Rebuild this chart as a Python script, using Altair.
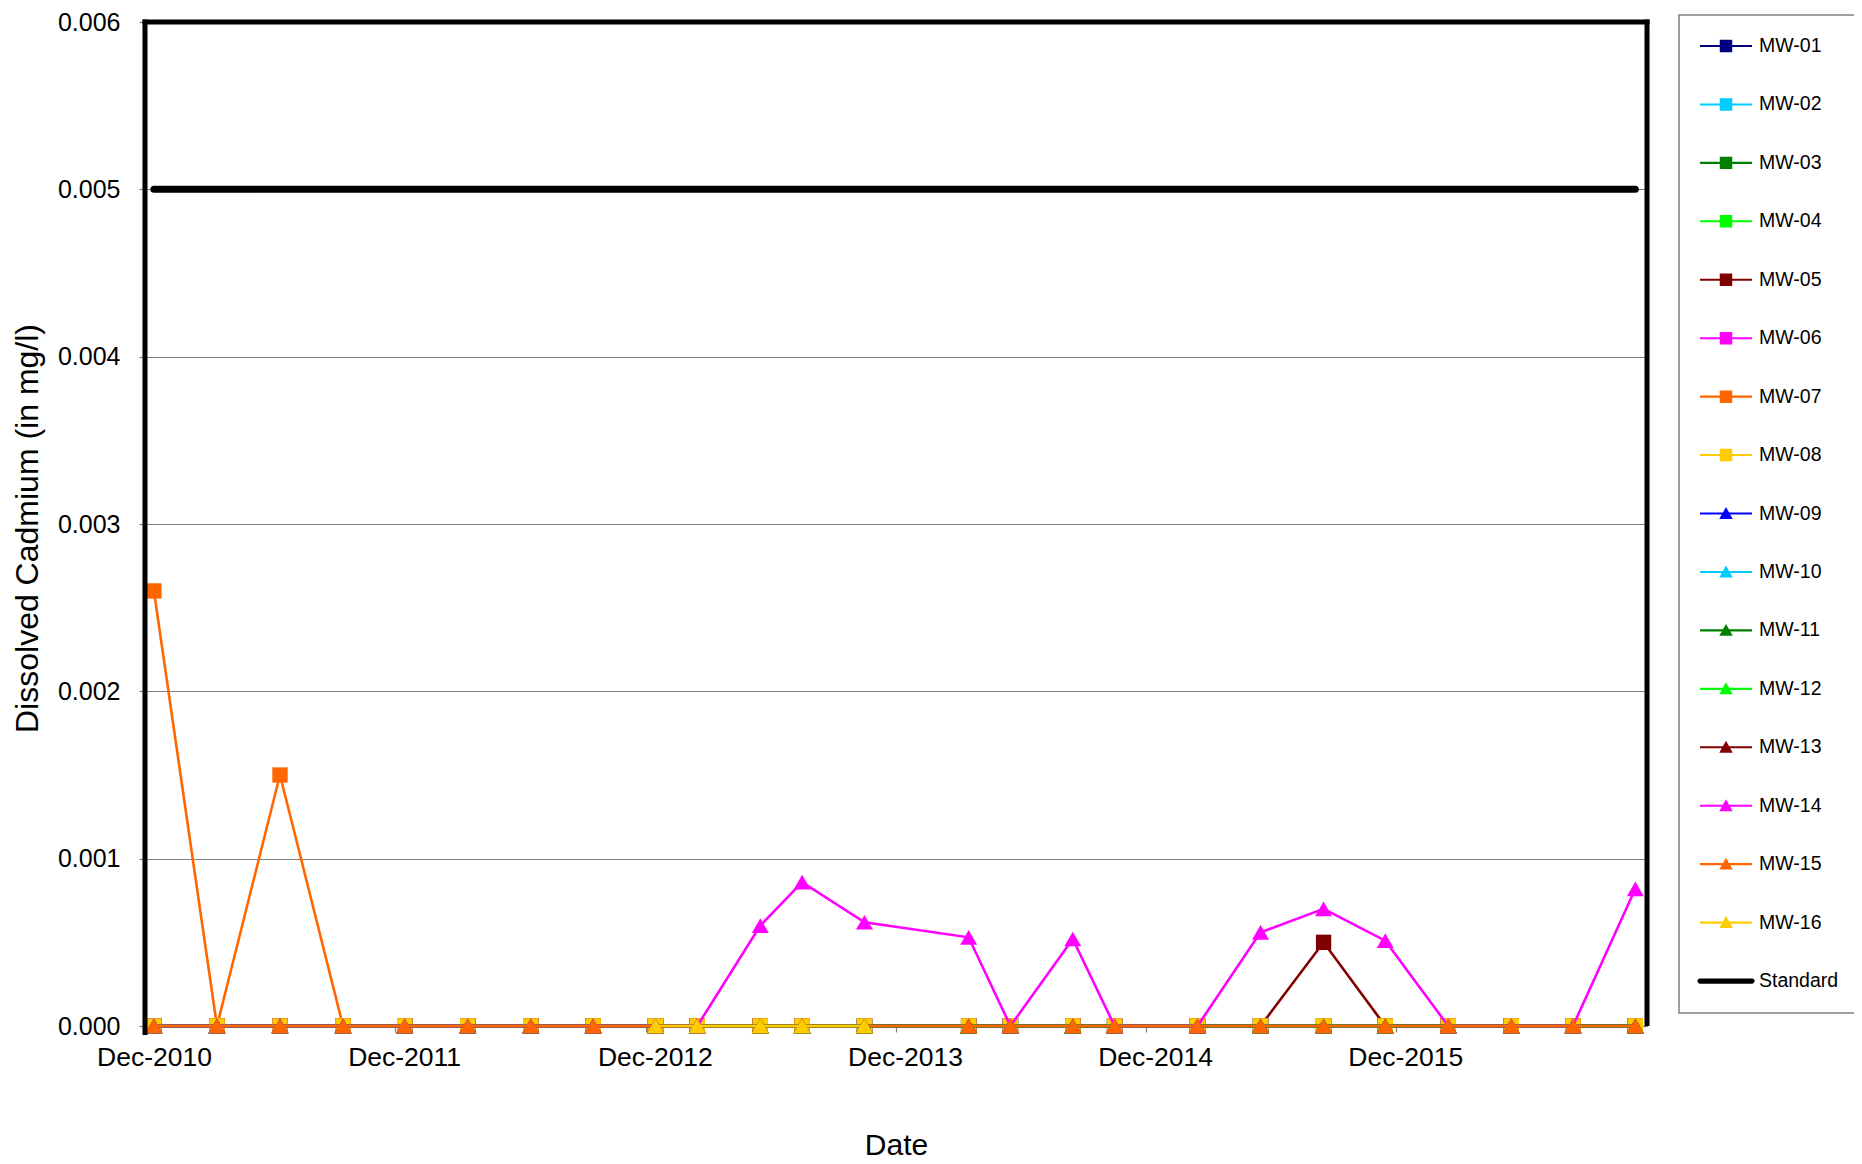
import altair as alt
import pandas as pd

FONT = "Liberation Sans"

dates = ["2010-12-14", "2011-03-16", "2011-06-16", "2011-09-16", "2011-12-15",
         "2012-03-16", "2012-06-16", "2012-09-15", "2012-12-15", "2013-02-14",
         "2013-05-17", "2013-07-17", "2013-10-16", "2014-03-17", "2014-05-17",
         "2014-08-16", "2014-10-16", "2015-02-14", "2015-05-17", "2015-08-17",
         "2015-11-15", "2016-02-15", "2016-05-17", "2016-08-15", "2016-11-14"]

mw01 = [0, 0, 0, 0, 0, 0, 0, 0, 0, 0, 0, 0, 0, 0, 0, 0, 0, 0, 0, 0, 0, 0, 0, 0, 0]
mw02 = [0, 0, 0, 0, 0, 0, 0, 0, 0, 0, 0, 0, 0, 0, 0, 0, 0, 0, 0, 0, 0, 0, 0, 0, 0]
mw03 = [0, 0, 0, 0, 0, 0, 0, 0, 0, 0, 0, 0, 0, 0, 0, 0, 0, 0, 0, 0, 0, 0, 0, 0, 0]
mw04 = [0, 0, 0, 0, 0, 0, 0, 0, 0, 0, 0, 0, 0, 0, 0, 0, 0, 0, 0, 0, 0, 0, 0, 0, 0]
mw05 = [0, 0, 0, 0, 0, 0, 0, 0, 0, 0, 0, 0, 0, 0, 0, 0, 0, 0, 0, 0.0005, 0, 0, 0, 0, 0]
mw06 = [0, 0, 0, 0, 0, 0, 0, 0, 0, 0, 0, 0, 0, 0, 0, 0, 0, 0, 0, 0, 0, 0, 0, 0, 0]
mw07 = [0.0026, 0, 0.0015, 0, 0, 0, 0, 0, 0, 0, 0, 0, 0, 0, 0, 0, 0, 0, 0, 0, 0, 0, 0, 0, 0]
mw08 = [0, 0, 0, 0, 0, 0, 0, 0, 0, 0, 0, 0, 0, 0, 0, 0, 0, 0, 0, 0, 0, 0, 0, 0, 0]
mw09 = [0, 0, 0, 0, 0, 0, 0, 0, 0, 0, 0, 0, 0, 0, 0, 0, 0, 0, 0, 0, 0, 0, 0, 0, 0]
mw10 = [0, 0, 0, 0, 0, 0, 0, 0, 0, 0, 0, 0, 0, 0, 0, 0, 0, 0, 0, 0, 0, 0, 0, 0, 0]
mw11 = [0, 0, 0, 0, 0, 0, 0, 0, 0, 0, 0, 0, 0, 0, 0, 0, 0, 0, 0, 0, 0, 0, 0, 0, 0]
mw12 = [0, 0, 0, 0, 0, 0, 0, 0, 0, 0, 0, 0, 0, 0, 0, 0, 0, 0, 0, 0, 0, 0, 0, 0, 0]
mw13 = [0, 0, 0, 0, 0, 0, 0, 0, 0, 0, 0, 0, 0, 0, 0, 0, 0, 0, 0, 0, 0, 0, 0, 0, 0]
mw14 = [0, 0, 0, 0, 0, 0, 0, 0, 0, 0, 0.0006, 0.00086, 0.00062, 0.00053, 0, 0.00052, 0,
        0, 0.00056, 0.0007, 0.00051, 0, 0, 0, 0.00082]
mw15 = [0, 0, 0, 0, 0, 0, 0, 0, 0, 0, 0, 0, 0, 0, 0, 0, 0, 0, 0, 0, 0, 0, 0, 0, 0]
mw16 = [None, None, None, None, None, None, None, None, 0, 0, 0, 0, 0, None, None,
        None, None, None, None, None, None, None, None, None, None]
standard = [0.005, 0.005, 0.005, 0.005, 0.005, 0.005, 0.005, 0.005, 0.005, 0.005,
            0.005, 0.005, 0.005, 0.005, 0.005, 0.005, 0.005, 0.005, 0.005, 0.005,
            0.005, 0.005, 0.005, 0.005, 0.005]

series_names = ["MW-01", "MW-02", "MW-03", "MW-04", "MW-05", "MW-06", "MW-07", "MW-08",
                "MW-09", "MW-10", "MW-11", "MW-12", "MW-13", "MW-14", "MW-15", "MW-16",
                "Standard"]
series_values = [mw01, mw02, mw03, mw04, mw05, mw06, mw07, mw08, mw09, mw10, mw11, mw12,
                 mw13, mw14, mw15, mw16, standard]
series_colors = ["#000080", "#00CCFF", "#008000", "#00FF00", "#800000", "#FF00FF",
                 "#FF6600", "#FFCC00", "#0000FF", "#00CCFF", "#008000", "#00FF00",
                 "#800000", "#FF00FF", "#FF6600", "#FFCC00", "#000000"]
series_markers = ["square"] * 8 + ["triangle-up"] * 8 + [None]

y_ticks = [0.0, 0.001, 0.002, 0.003, 0.004, 0.005, 0.006]
x_tick_years = [2010, 2011, 2012, 2013, 2014, 2015]

# legend symbols (line + marker) as custom paths
LINE = "M-1,-0.04H1V0.04H-1Z"
SQ = LINE + " M-0.24,-0.24H0.24V0.24H-0.24Z"
TRI = LINE + " M0,-0.25L0.26,0.21H-0.26Z"
STD = "M-1,-0.1H1A0.1,0.1,0,0,1,1,0.1H-1A0.1,0.1,0,0,1,-1,-0.1Z"
legend_paths = [SQ] * 8 + [TRI] * 8 + [STD]

rows = []
for name, vals in zip(series_names, series_values):
    for d, v in zip(dates, vals):
        if v is not None:
            rows.append({"date": d, "series": name, "value": v})
df = pd.DataFrame(rows)

W, H = 1502, 1004
TOP = 14

X = alt.X(
    "date:T",
    scale=alt.Scale(domain=[alt.DateTime(year=2010, month=12, date=1, utc=True),
                            alt.DateTime(year=2016, month=12, date=1, utc=True)]),
    axis=alt.Axis(
        values=[alt.DateTime(year=y, month=12, date=1, utc=True) for y in x_tick_years],
        labelExpr="utcFormat(datum.value, '%b-%Y')",
        labelFont=FONT, labelFontSize=26.5, labelColor="black", labelPadding=12,
        labelOffset=9, labelFlush=False, labelOverlap=False,
        tickSize=6, tickColor="#808080", tickWidth=1.2,
        domainColor="#808080", domainWidth=1.5, grid=False,
        title="Date", titleFont=FONT, titleFontSize=30, titleFontWeight="normal",
        titleColor="black", titleBaseline="alphabetic", titleY=128,
    ),
)
Y = alt.Y(
    "value:Q",
    scale=alt.Scale(domain=[0, 0.006], nice=False),
    axis=alt.Axis(
        values=y_ticks, format=".3f",
        labelFont=FONT, labelFontSize=25, labelColor="black", labelPadding=19,
        tickSize=6, tickColor="#808080", tickWidth=1.2,
        grid=True, gridColor="#808080", gridWidth=1.2, domain=False,
        title="Dissolved Cadmium (in mg/l)", titleFont=FONT, titleFontSize=32,
        titleFontWeight="normal", titleColor="black", titleBaseline="alphabetic",
        titleX=-108, titleY=506, titleAngle=270,
    ),
)

LEG = alt.Legend(
    title=None, orient="none", legendX=1534, legendY=-7, padding=17,
    fillColor="white",
    clipHeight=28, rowPadding=30.44, symbolSize=2704, symbolStrokeWidth=0,
    symbolOffset=4,
    labelFont=FONT, labelFontSize=19.5, labelOffset=7, labelColor="black",
    labelLimit=300,
)
cscale = alt.Scale(domain=series_names, range=series_colors)
sscale = alt.Scale(domain=series_names, range=legend_paths)

# legend-only layer (no rows drawn); its scales come from the series arrays
legend_layer = (alt.Chart(df).transform_filter("false")
                .mark_point(filled=True, opacity=1)
                .encode(x=X, y=Y,
                        color=alt.Color("series:N", scale=cscale, legend=LEG),
                        shape=alt.Shape("series:N", scale=sscale, legend=LEG)))

layers = [legend_layer]
for name, colr, marker in zip(series_names, series_colors, series_markers):
    sub = df[df["series"] == name]
    if name == "Standard":
        layers.append(alt.Chart(sub).mark_line(color=colr, strokeWidth=7, strokeCap="round")
                      .encode(x=X, y=Y))
    else:
        layers.append(alt.Chart(sub).mark_line(color=colr, strokeWidth=2.6)
                      .encode(x=X, y=Y))
        size = 235 if marker == "square" else 289
        layers.append(alt.Chart(sub).mark_point(shape=marker, filled=True, size=size,
                                                color=colr, opacity=1, strokeWidth=0)
                      .encode(x=X, y=Y))

one = pd.DataFrame({"k": [0]})
border_left = alt.Chart(one).mark_rule(color="black", strokeWidth=5).encode(
    x=alt.value(0), y=alt.value(-2.5), y2=alt.value(H + 9))
border_top = alt.Chart(one).mark_rule(color="black", strokeWidth=5).encode(
    x=alt.value(-2.5), x2=alt.value(W + 2.5), y=alt.value(0))
border_right = alt.Chart(one).mark_rule(color="black", strokeWidth=5).encode(
    x=alt.value(W), y=alt.value(-2.5), y2=alt.value(H))
layers += [border_left, border_top, border_right]

chart = (alt.layer(*layers)
         .properties(width=W, height=H,
                     autosize=alt.AutoSizeParams(type="none"),
                     padding={"left": 137, "top": TOP, "right": 207, "bottom": 135})
         .configure_view(stroke="transparent")
         .configure_legend(strokeColor="#808080", strokeWidth=1.5))

chart.save("out.html", embed_options={"renderer": "svg", "actions": False})
